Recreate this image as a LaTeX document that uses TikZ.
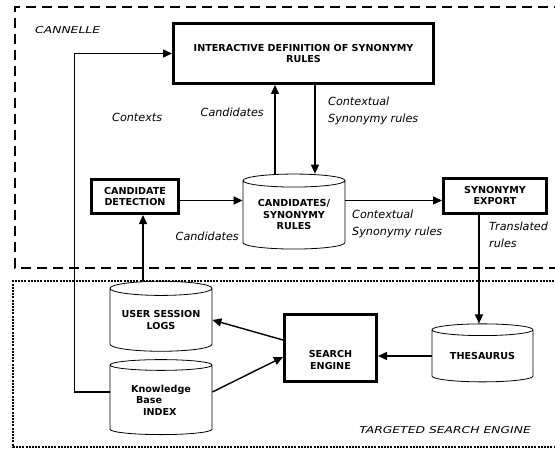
\documentclass[tikz,border=0pt]{standalone}
\usepackage{fontspec}
\setmainfont{DejaVu Sans}
\usetikzlibrary{arrows.meta,shapes.geometric}

\tikzset{
  blktext/.style={inner sep=0pt, align=center, font=\bfseries\fontsize{9.6}{11.5}\selectfont},
  blk/.style={draw, line width=3pt, blktext},
  db/.style={draw, line width=0.8pt, cylinder, shape border rotate=90, aspect=0.18, blktext},
  flow/.style={line width=1.4pt, -{Triangle[length=9pt,width=8pt]}},
  note/.style={inner sep=0pt, align=left, font=\itshape\fontsize{11.2}{16.5}\selectfont},
  tag/.style={inner sep=0pt, font=\itshape\fontsize{9.5}{11}\selectfont},
}

\begin{document}
\begin{tikzpicture}[x=1pt, y=-1pt]
    \useasboundingbox[fill=white] (0,0) rectangle (555,452);
    \clip (0,0) rectangle (555,452);
    \draw[line width=2.8pt, dash pattern=on 10pt off 6pt] (580,7) -- (15,7) -- (15,268) -- (580,268);
    \draw[line width=2.4pt, dash pattern=on 2pt off 1.2pt] (580,281) -- (13,281) -- (13,447) -- (580,447);
    \node[tag, anchor=west] (cannelle) at (35,30) {\scalebox{1.3}[1]{CANNELLE}};
    \node[tag, anchor=east] (target) at (531,430) {\scalebox{1.3}[1]{TARGETED SEARCH ENGINE}};

    \node[blk, minimum width=260pt, minimum height=60pt] (defn) at (303.5,53.5)
        {INTERACTIVE DEFINITION OF SYNONYMY\\RULES};
    \node[blk, minimum width=87pt, minimum height=34pt] (detect) at (135,196.5)
        {CANDIDATE\\DETECTION};
    \node[db, minimum width=102pt, minimum height=75pt] (rules) at (294,215)
        {CANDIDATES/\\SYNONYMY\\RULES};
    \node[blk, minimum width=103pt, minimum height=35pt] (export) at (495,195.5)
        {SYNONYMY\\EXPORT};
    \node[db, minimum width=102pt, minimum height=70pt] (logs) at (161,320)
        {USER SESSION\\LOGS};
    \node[db, minimum width=102pt, minimum height=75pt, align=left] (kbase) at (161,400)
        {Knowledge\\\hspace*{5pt}Base\\\hspace*{12pt}INDEX};
    \node[blk, minimum width=92pt, minimum height=67pt,
        label={[blktext, yshift=-12pt]center:{SEARCH\\ENGINE}}] (search) at (330.5,348) {};
    \node[db, minimum width=101pt, minimum height=58pt] (thes) at (482.5,356)
        {THESAURUS};

    \draw[flow] ([yshift=8pt]kbase.west) -- ++(-35,0) |- (defn.west);
    \draw[flow] ([xshift=-19pt]rules.north) -- ([xshift=-19pt]rules.north |- defn.south);
    \draw[flow] ([xshift=21pt]rules.north |- defn.south) -- ([xshift=21pt]rules.north);
    \draw[flow] ([yshift=-4pt]detect.east) -- ([yshift=-4pt]detect.east -| rules.west);
    \draw[flow] ([yshift=-4pt]detect.east -| rules.east) -- ([yshift=-4pt]detect.east -| export.west);
    \draw[flow] ([xshift=-16pt]export.south) -- ([xshift=-16pt]export.south |- thes.north);
    \draw[flow] ([xshift=-18pt]logs.north) -- ([xshift=-18pt]logs.north |- detect.south);
    \draw[flow] ([yshift=8pt]search.west) -- (logs.east);
    \draw[flow] ([yshift=8pt]kbase.east) -- ([yshift=-9pt]search.west);
    \draw[flow] (thes.west) -- (thes.west -| search.east);

    \node[note, anchor=west] (lcontexts) at (112,117) {Contexts};
    \node[note, anchor=east] (lcandup) at (264,112) {Candidates};
    \node[note, anchor=north west] (lrulesup) at (328,97) {Contextual\\Synonymy rules};
    \node[note, anchor=east] (lcandlow) at (239,236) {Candidates};
    \node[note, anchor=north west] (lruleslow) at (352,210) {Contextual\\Synonymy rules};
    \node[note, anchor=north west] (ltrans) at (489,222) {Translated\\rules};
\end{tikzpicture}
\end{document}
